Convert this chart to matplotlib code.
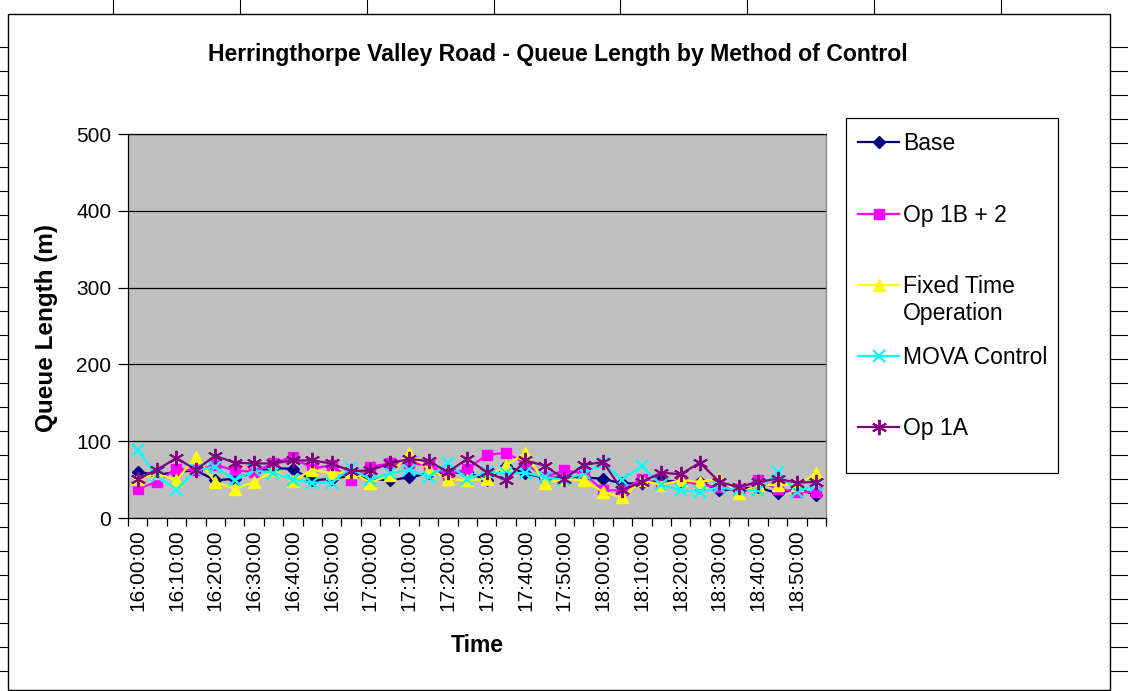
import numpy as np
import matplotlib
matplotlib.use("Agg")
import matplotlib.pyplot as plt
from matplotlib.lines import Line2D
from matplotlib.patches import Rectangle

plt.rcParams['font.family'] = ['Liberation Sans', 'DejaVu Sans']

# ---------------- data ----------------
times = ["16:00:00", "16:05:00", "16:10:00", "16:15:00", "16:20:00", "16:25:00",
         "16:30:00", "16:35:00", "16:40:00", "16:45:00", "16:50:00", "16:55:00",
         "17:00:00", "17:05:00", "17:10:00", "17:15:00", "17:20:00", "17:25:00",
         "17:30:00", "17:35:00", "17:40:00", "17:45:00", "17:50:00", "17:55:00",
         "18:00:00", "18:05:00", "18:10:00", "18:15:00", "18:20:00", "18:25:00",
         "18:30:00", "18:35:00", "18:40:00", "18:45:00", "18:50:00", "18:55:00"]

base = [60, 56, 60, 62, 49, 51, 60, 65, 64, 49, 51, 55, 51, 49, 53, 58, 58, 60,
        49, 68, 58, 52, 53, 53, 51, 45, 45, 49, 47, 47, 36, 38, 40, 32, 38, 30]
op1b2 = [38, 47, 64, 62, 69, 62, 60, 71, 80, 64, 69, 49, 67, 71, 71, 69, 56, 64,
         82, 85, 71, 53, 62, 58, 36, 36, 51, 43, 49, 43, 40, 38, 49, 38, 34, 34]
fixed = [51, 58, 49, 80, 47, 38, 47, 62, 48, 63, 58, 60, 46, 56, 84, 64, 51, 49,
         51, 69, 84, 45, 51, 49, 34, 27, 49, 43, 49, 47, 51, 32, 43, 43, 43, 58]
mova = [88, 55, 37, 62, 67, 49, 62, 59, 50, 46, 46, 65, 50, 58, 63, 53, 71, 51,
        60, 58, 59, 53, 50, 58, 71, 50, 68, 43, 36, 34, 40, 36, 36, 60, 34, 43]
op1a = [51, 63, 78, 63, 81, 72, 71, 71, 75, 75, 71, 61, 62, 71, 77, 74, 60, 77,
        60, 49, 75, 68, 51, 69, 73, 36, 47, 59, 57, 72, 47, 40, 47, 51, 46, 47]

series_names = ["Base", "Op 1B + 2", "Fixed Time Operation", "MOVA Control", "Op 1A"]
series_values = [base, op1b2, fixed, mova, op1a]
yticks = [0, 100, 200, 300, 400, 500]

# ---------------- styles ----------------
styles = [
    dict(color="#000080", marker="D", ms=6.5, mec="#000080", mfc="#000080"),
    dict(color="#FF00FF", marker="s", ms=7.5, mec="#FF00FF", mfc="#FF00FF"),
    dict(color="#FFFF00", marker="^", ms=9, mec="#FFFF00", mfc="#FFFF00"),
    dict(color="#00FFFF", marker="x", ms=9, mew=1.6, mec="#00FFFF"),
    dict(color="#800080", marker=(6, 2, 0), ms=11, mew=1.4, mec="#800080"),
]

W, H = 1128, 691
fig = plt.figure(figsize=(W / 100, H / 100), dpi=100)
fig.patch.set_facecolor("white")

def fx(px):
    return px / W

def fy(py):
    return 1 - py / H

# spreadsheet grid behind the chart
for xv in [113, 240, 367, 493.5, 620, 747, 874, 1000.7]:
    fig.add_artist(Line2D([fx(xv), fx(xv)], [fy(0), fy(14)], color="black",
                          lw=0.8, transform=fig.transFigure, zorder=0))
for k in range(27):
    yv = 46.7 + 24 * k
    fig.add_artist(Line2D([fx(0), fx(8)], [fy(yv), fy(yv)], color="black",
                          lw=0.8, transform=fig.transFigure, zorder=0))
    fig.add_artist(Line2D([fx(1110), fx(1128)], [fy(yv), fy(yv)], color="black",
                          lw=0.8, transform=fig.transFigure, zorder=0))

# chart area
fig.add_artist(Rectangle((fx(8), fy(690)), fx(1110) - fx(8), fy(14) - fy(690),
                         transform=fig.transFigure, facecolor="white",
                         edgecolor="black", lw=1.0, zorder=0.5))

ax = fig.add_axes([fx(128), fy(518), fx(826) - fx(128), fy(134) - fy(518)])
ax.set_zorder(2)
ax.set_facecolor("#C0C0C0")

x = np.arange(len(times))
handles = []
for name, vals, st in zip(series_names, series_values, styles):
    ln, = ax.plot(x, vals, lw=1.6, label=name, clip_on=False, zorder=3, **st)
    handles.append(ln)

ax.set_xlim(-0.5, len(times) - 0.5)
ax.set_ylim(0, 500)
ax.set_yticks(yticks)
ax.set_yticklabels([str(v) for v in yticks], fontsize=15)
ax.yaxis.grid(True, color="black", lw=0.9)
ax.set_axisbelow(True)
ax.tick_params(axis="y", direction="out", length=7, width=0.9, pad=5, colors="black")

# category boundaries as major ticks, labels on every second category
ax.set_xticks(np.arange(-0.5, len(times), 1.0))
ax.set_xticklabels([])
ax.set_xticks(x[::2], [times[i] for i in x[::2]], minor=True)
ax.tick_params(axis="x", which="major", direction="out", length=6, width=0.9)
ax.tick_params(axis="x", which="minor", length=0, pad=8, labelsize=15,
               labelrotation=90)

for s in ["left", "bottom", "top"]:
    ax.spines[s].set_color("black")
    ax.spines[s].set_linewidth(0.9)
ax.spines["right"].set_color("#808080")
ax.spines["right"].set_linewidth(0.9)

fig.text(fx(558), fy(55), "Herringthorpe Valley Road - Queue Length by Method of Control",
         ha="center", va="center", fontsize=16.6, fontweight="bold")
fig.text(fx(47), fy(328), "Queue Length (m)", ha="center", va="center",
         rotation=90, fontsize=17.5, fontweight="bold")
fig.text(fx(477), fy(645), "Time", ha="center", va="center",
         fontsize=16.5, fontweight="bold")

# legend frame and entries
fig.add_artist(Rectangle((fx(846), fy(473)), fx(1058) - fx(846), fy(118) - fy(473),
                         transform=fig.transFigure, facecolor="white",
                         edgecolor="black", lw=0.9, zorder=3))
leg_fs = 16.5
legend_labels = ["Base", "Op 1B + 2", "Fixed Time", "MOVA Control", "Op 1A"]
leg = fig.legend(handles=handles, labels=legend_labels, loc="upper left",
                 bbox_to_anchor=(fx(858), fy(132.5)), frameon=False, fontsize=leg_fs,
                 labelspacing=2.1, handlelength=1.8, handletextpad=0.15,
                 borderpad=0, borderaxespad=0)
leg.set_zorder(4)

# second line of the "Fixed Time Operation" legend label
fig.canvas.draw()
renderer = fig.canvas.get_renderer()
bb = leg.get_texts()[2].get_window_extent(renderer)
line_h = leg_fs * 1.2 * 100 / 72
fig.text(bb.x0 / W, (bb.y0 + bb.y1) / 2 / H - line_h / H, "Operation",
         ha="left", va="center", fontsize=leg_fs, zorder=5)

fig.savefig("out.png", dpi=100, facecolor="white")
